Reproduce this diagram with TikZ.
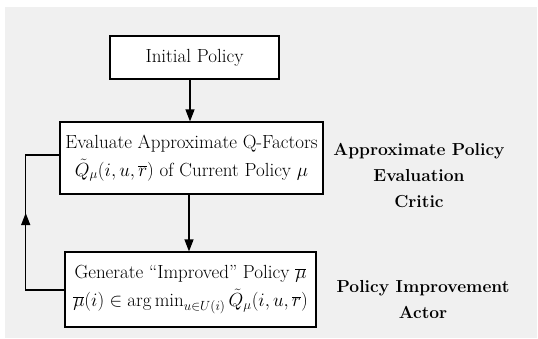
\RequirePackage{fix-cm}
\documentclass[tikz,border=0pt]{standalone}
\usepackage{fontspec}
\usetikzlibrary{arrows.meta}
\definecolor{bggray}{HTML}{F0F0F0}
\begin{document}
\begin{tikzpicture}[x=1pt,y=-1pt,
  box/.style={draw=black,line width=1.2pt,fill=white,inner sep=0pt,font=\fontsize{19}{28}\selectfont,align=center},
  lbl/.style={font=\fontsize{17.4}{26}\selectfont\bfseries,align=center},
  conn/.style={line width=1.2pt,-{Triangle[length=12pt,width=9pt]}}]
\useasboundingbox (0,0) rectangle (538,338);
\fill[bggray] (5,7) rectangle (537,338);
\node[box,minimum width=169pt,minimum height=43pt] (init) at (194.5,57.5) {Initial Policy};
\node[box,minimum width=263pt,minimum height=72pt] (eval) at (191.5,158) {Evaluate Approximate Q-Factors\\ $\tilde{Q}_\mu(i,u,\overline{r})$ of Current Policy $\mu$};
\node[box,minimum width=251pt,minimum height=75pt] (gen) at (190.5,289.5) {Generate ``Improved'' Policy $\overline{\mu}$\\ $\overline{\mu}(i)\in\arg\min_{u\in U(i)}\tilde{Q}_\mu(i,u,\overline{r})$};
\node[lbl] (critic) at (419,176) {Approximate Policy\\ Evaluation\\ Critic};
\node[lbl] (actor) at (423,300) {Policy Improvement\\ Actor};
\coordinate (c1) at (25.7,290);
\coordinate (c2) at (25.7,155);
\draw[conn] (init.south -| 190,0) -- (eval.north -| 190,0);
\draw[conn] (eval.south -| 189,0) -- (gen.north -| 189,0);
\draw[line width=1.2pt] (gen.west |- c1) -- (c1) -- (c2) -- (eval.west |- c2);
\draw[conn] (c1) -- (25.7,213);
\end{tikzpicture}
\end{document}
